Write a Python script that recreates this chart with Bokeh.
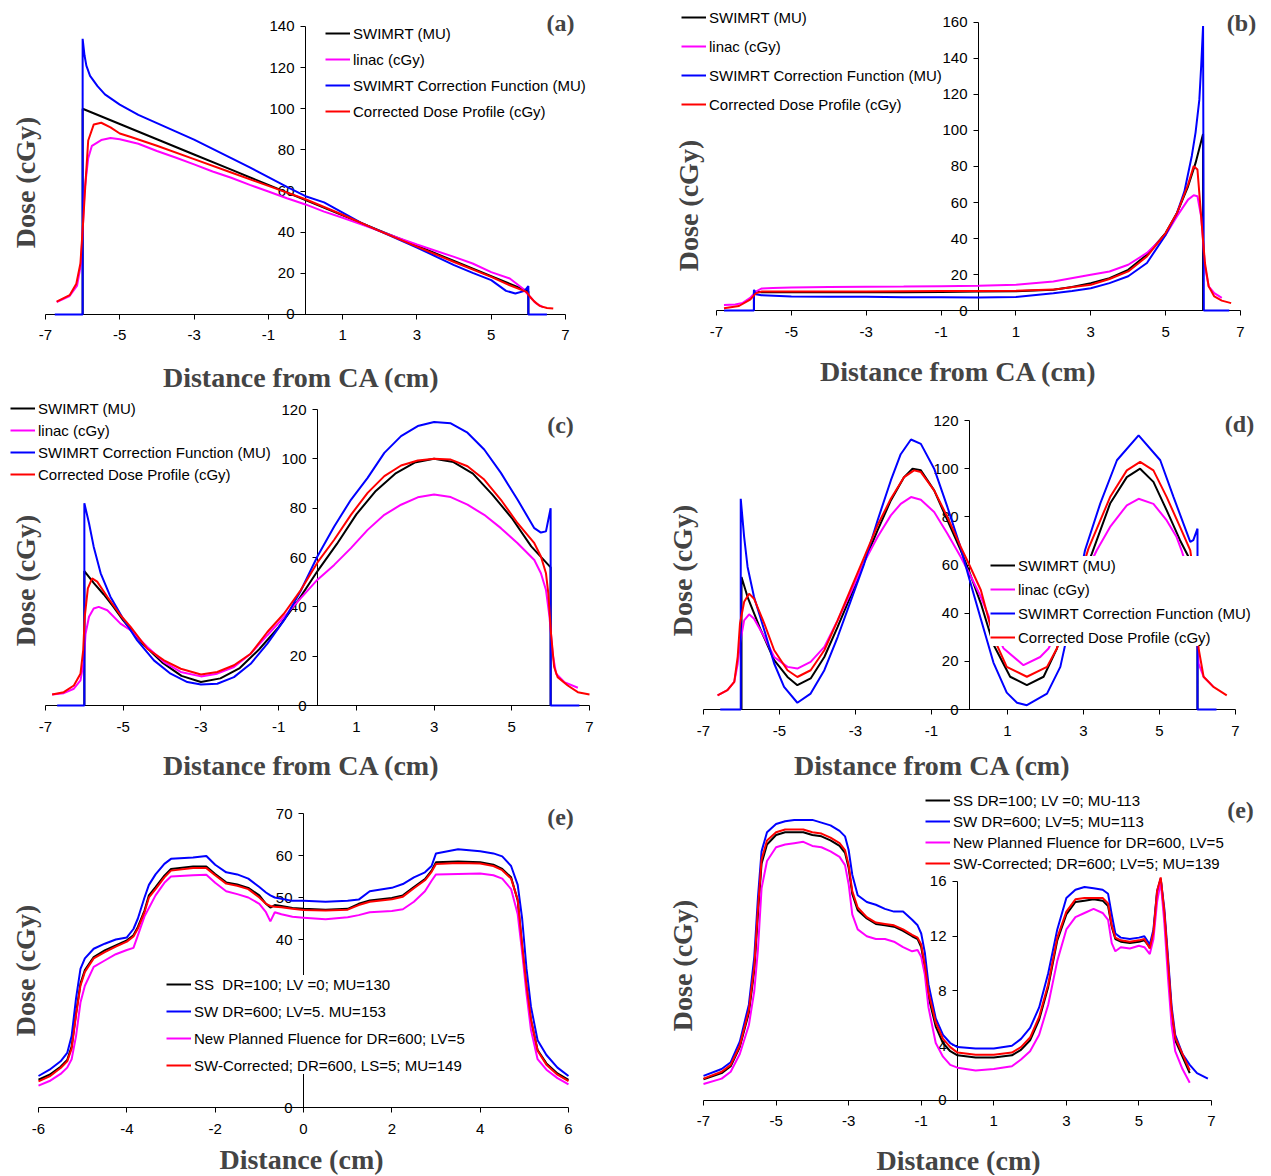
from bokeh.plotting import figure
from bokeh.models import Range1d, FixedTicker, Legend, LegendItem, Label
from bokeh.layouts import column, row
from bokeh.embed import file_html
from bokeh.resources import INLINE
import math

# ---------------- legend texts / ticks ----------------
LABELS_ABCD = ["SWIMRT (MU)", "linac (cGy)", "SWIMRT Correction Function (MU)", "Corrected Dose Profile (cGy)"]
LABELS_E1 = ["SS  DR=100; LV =0; MU=130", "SW DR=600; LV=5. MU=153",
             "New Planned Fluence for DR=600; LV=5", "SW-Corrected; DR=600, LS=5; MU=149"]
LABELS_E2 = ["SS DR=100; LV =0; MU-113", "SW DR=600; LV=5; MU=113",
             "New Planned Fluence for DR=600, LV=5", "SW-Corrected; DR=600; LV=5; MU=139"]
X_TICKS_ODD = [-7, -5, -3, -1, 1, 3, 5, 7]
X_TICKS_E1 = [-6, -4, -2, 0, 2, 4, 6]
Y_TICKS_A = [0, 20, 40, 60, 80, 100, 120, 140]
Y_TICKS_B = [0, 20, 40, 60, 80, 100, 120, 140, 160]
Y_TICKS_CD = [0, 20, 40, 60, 80, 100, 120]
Y_TICKS_E1 = [0, 10, 20, 30, 40, 50, 60, 70]
Y_TICKS_E2 = [0, 4, 8, 12, 16]

# ---------------- panel (a) ----------------
A_BLACK_X = [-6.0, -6.0, -5.0, -4.0, -3.0, -2.0, -1.0, 0.0, 1.0, 2.0, 3.0, 4.0, 5.0, 6.0, 6.0]
A_BLACK_Y = [0.0, 100.0, 92.6, 85.2, 77.8, 70.4, 63.0, 55.6, 48.2, 40.8, 33.4, 26.0, 18.6, 11.2, 0.0]
A_MAG_X = [-6.7, -6.35, -6.15, -6.05, -6.0, -5.95, -5.85, -5.75, -5.5, -5.25, -5.0, -4.5, -4.0, -3.5, -3.0,
           -2.5, -2.0, -1.5, -1.0, -0.5, 0.0, 0.5, 1.0, 1.5, 2.0, 2.5, 3.0, 3.5, 4.0, 4.5, 5.0, 5.5, 5.85,
           6.05, 6.2, 6.4]
A_MAG_Y = [6.0, 9.0, 14.0, 24.0, 40.0, 60.0, 76.0, 82.0, 84.8, 85.8, 85.2, 83.0, 79.5, 76.3, 73.0, 69.5,
           66.5, 63.0, 59.8, 56.5, 53.5, 50.0, 47.0, 43.8, 40.5, 37.2, 34.0, 31.0, 28.0, 24.8, 20.6, 17.5,
           12.6, 8.5, 5.5, 3.5]
A_BLUE_X = [-6.75, -6.0, -6.0, -5.95, -5.9, -5.8, -5.6, -5.4, -5.0, -4.5, -4.0, -3.5, -3.0, -2.5, -2.0,
            -1.5, -1.0, -0.5, 0.0, 0.5, 1.0, 1.5, 2.0, 2.5, 3.0, 3.5, 4.0, 4.5, 5.0, 5.4, 5.65, 5.9, 6.0,
            6.0, 6.5]
A_BLUE_Y = [0.0, 0.0, 134.0, 126.0, 121.0, 116.0, 111.0, 107.0, 102.0, 97.0, 93.0, 89.0, 85.0, 80.5,
            76.0, 71.5, 66.8, 62.0, 57.5, 54.5, 49.5, 44.5, 40.5, 36.5, 32.5, 28.3, 24.0, 20.2, 16.7,
            11.5, 10.2, 11.5, 13.8, 0.0, 0.0]
A_RED_X = [-6.7, -6.35, -6.17, -6.06, -6.0, -5.93, -5.85, -5.7, -5.5, -5.25, -5.0, -4.7, -4.0, -3.0,
           -2.0, -1.0, 0.0, 1.0, 2.0, 3.0, 4.0, 5.0, 5.5, 5.95, 6.05, 6.15, 6.3, 6.5, 6.67]
A_RED_Y = [6.3, 9.4, 15.0, 24.8, 41.0, 62.0, 84.6, 92.4, 93.2, 91.0, 88.0, 86.3, 82.0, 75.5, 69.0, 62.5,
           56.0, 48.5, 40.5, 33.0, 25.5, 18.3, 14.2, 11.0, 8.5, 6.5, 4.2, 3.2, 2.9]

# ---------------- panel (b) ----------------
B_BLACK_X = [-6.0, -6.0, -5.8, -5.0, -4.0, -3.0, -2.0, -1.0, 0.0, 1.0, 2.0, 2.5, 3.0, 3.5, 4.0, 4.5, 5.0,
             5.3, 5.6, 5.8, 5.9, 6.0, 6.0]
B_BLACK_Y = [0.0, 10.5, 10.2, 10.2, 10.2, 10.2, 10.2, 10.3, 10.5, 10.7, 11.5, 13.0, 15.2, 18.0, 22.6,
             31.0, 43.0, 54.0, 69.0, 82.0, 90.0, 98.0, 0.0]
B_MAG_X = [-6.8, -6.5, -6.3, -6.1, -5.95, -5.8, -5.5, -5.0, -4.0, -3.0, -2.0, -1.0, 0.0, 1.0, 2.0, 3.0,
           3.5, 4.0, 4.5, 5.0, 5.3, 5.6, 5.75, 5.85, 5.95, 6.05, 6.15, 6.3, 6.5]
B_MAG_Y = [3.0, 3.3, 4.2, 7.0, 10.5, 12.2, 12.5, 12.8, 13.0, 13.2, 13.3, 13.5, 13.7, 14.3, 16.1, 19.9,
           21.7, 25.4, 32.0, 42.0, 52.3, 61.6, 64.0, 63.5, 52.0, 24.5, 13.4, 9.6, 7.0]
B_BLUE_X = [-6.8, -6.0, -6.0, -5.95, -5.8, -5.0, -4.0, -3.0, -2.0, -1.0, 0.0, 1.0, 2.0, 2.5, 3.0, 3.5,
            4.0, 4.5, 5.0, 5.3, 5.5, 5.7, 5.8, 5.9, 5.95, 6.0, 6.02, 6.7]
B_BLUE_Y = [0.0, 0.0, 11.5, 9.0, 8.5, 7.8, 7.6, 7.6, 7.3, 7.4, 7.2, 7.5, 9.6, 10.8, 12.4, 15.2, 19.0,
            26.4, 42.0, 54.0, 66.0, 86.0, 99.0, 117.0, 136.0, 158.0, 0.0, 0.0]
B_RED_X = [-6.8, -6.4, -6.1, -5.95, -5.8, -5.5, -5.0, -4.0, -3.0, -2.0, -1.0, 0.0, 1.0, 2.0, 3.0, 3.5,
           4.0, 4.5, 5.0, 5.3, 5.6, 5.75, 5.85, 5.95, 6.05, 6.15, 6.3, 6.5, 6.75]
B_RED_Y = [1.3, 2.5, 6.0, 9.5, 10.5, 10.5, 10.5, 10.5, 10.6, 10.7, 10.8, 10.9, 11.0, 11.6, 14.3, 17.5,
           21.7, 30.0, 43.0, 54.0, 70.0, 80.2, 78.3, 52.0, 26.4, 13.4, 7.8, 5.5, 4.1]

# ---------------- panel (c) ----------------
C_BLACK_X = [-6.0, -6.0, -5.75, -5.5, -5.25, -5.0, -4.5, -4.0, -3.5, -3.0, -2.5, -2.0, -1.5, -1.0, -0.5,
             0.0, 0.5, 1.0, 1.5, 2.0, 2.5, 3.0, 3.5, 4.0, 4.5, 5.0, 5.5, 6.0, 6.0]
C_BLACK_Y = [0.0, 54.5, 49.5, 45.0, 40.0, 34.5, 25.0, 17.5, 12.0, 9.5, 11.0, 15.2, 22.8, 31.8, 42.5,
             54.5, 65.5, 77.5, 87.0, 94.0, 98.5, 100.0, 98.7, 94.0, 85.5, 76.0, 64.5, 56.0, 0.0]
C_MAG_X = [-6.83, -6.53, -6.27, -6.1, -6.01, -5.97, -5.88, -5.76, -5.63, -5.41, -5.07, -4.81, -4.38, -3.95,
           -3.52, -3.0, -2.58, -2.15, -1.72, -1.29, -0.86, -0.43, 0.0, 0.43, 0.86, 1.29, 1.72, 2.15, 2.58,
           3.0, 3.43, 3.86, 4.29, 4.72, 5.15, 5.58, 5.75, 5.88, 5.97, 6.05, 6.14, 6.35, 6.7]
C_MAG_Y = [4.5, 5.0, 6.8, 10.2, 18.3, 29.0, 36.0, 39.3, 40.0, 38.6, 33.2, 30.5, 23.7, 17.6, 13.6, 11.8,
           12.9, 15.6, 21.0, 28.5, 35.9, 43.5, 51.0, 57.0, 63.8, 71.2, 77.3, 81.4, 84.4, 85.5, 84.5, 81.4,
           77.3, 71.9, 65.8, 59.0, 53.6, 46.8, 36.0, 21.0, 12.9, 9.5, 7.2]
C_BLUE_X = [-6.7, -6.0, -6.0, -5.88, -5.76, -5.58, -5.33, -4.98, -4.64, -4.21, -3.78, -3.35, -3.0, -2.58,
            -2.15, -1.72, -1.29, -0.86, -0.43, 0.0, 0.43, 0.86, 1.29, 1.72, 2.15, 2.58, 3.0, 3.43, 3.86,
            4.29, 4.72, 5.15, 5.58, 5.75, 5.88, 5.94, 6.0, 6.0, 6.74]
C_BLUE_Y = [0.0, 0.0, 82.0, 73.9, 64.4, 53.6, 44.1, 34.6, 26.4, 18.3, 12.9, 9.5, 8.5, 8.8, 11.5, 16.9,
            25.1, 34.6, 46.5, 60.5, 72.6, 83.4, 92.3, 102.4, 109.2, 113.3, 114.9, 114.4, 110.6, 103.8,
            94.3, 83.4, 71.9, 70.1, 70.6, 75.3, 80.0, 0.0, 0.0]
C_RED_X = [-6.83, -6.53, -6.27, -6.1, -6.03, -5.99, -5.91, -5.8, -5.67, -5.41, -5.07, -4.81, -4.38, -3.95,
           -3.52, -3.0, -2.58, -2.15, -1.72, -1.29, -0.86, -0.43, 0.0, 0.43, 0.86, 1.29, 1.72, 2.15, 2.58,
           3.0, 3.43, 3.86, 4.29, 4.72, 5.15, 5.58, 5.75, 5.88, 5.94, 6.01, 6.09, 6.18, 6.44, 6.7, 7.0]
C_RED_Y = [4.5, 5.4, 8.1, 12.9, 22.4, 36.0, 47.5, 51.5, 50.2, 44.1, 36.6, 31.9, 23.0, 18.3, 14.9, 12.6,
           13.6, 16.3, 21.0, 29.8, 37.3, 46.8, 58.0, 67.2, 77.3, 86.2, 93.0, 97.3, 99.3, 100.0, 99.7,
           97.0, 91.6, 83.4, 73.9, 65.8, 60.4, 53.6, 45.5, 29.2, 15.6, 11.5, 8.1, 5.4, 4.5]

# ---------------- panel (d) ----------------
D_BLACK_X = [-6.0, -6.0, -5.84, -5.49, -5.14, -4.79, -4.53, -4.18, -3.82, -3.47, -3.12, -2.77, -2.42,
             -2.07, -1.72, -1.5, -1.28, -0.93, -0.58, -0.23, 0.0, 0.3, 0.63, 1.07, 1.51, 1.95, 2.3, 2.7,
             3.22, 3.7, 4.14, 4.49, 4.84, 5.19, 5.54, 5.81, 6.0, 6.0]
D_BLACK_Y = [0.0, 55.0, 46.7, 32.9, 20.5, 13.5, 10.1, 12.9, 21.8, 34.3, 47.4, 61.2, 74.4, 86.8, 96.5,
             100.0, 99.3, 91.0, 78.5, 66.1, 57.0, 44.0, 27.0, 13.6, 10.1, 13.6, 25.3, 45.0, 64.7, 85.5,
             96.5, 100.0, 94.5, 82.7, 70.3, 62.0, 56.0, 0.0]
D_MAG_X = [-6.63, -6.37, -6.19, -6.1, -6.04, -5.93, -5.8, -5.67, -5.4, -5.14, -4.79, -4.53, -4.18, -3.82,
           -3.47, -3.12, -2.77, -2.42, -2.07, -1.81, -1.54, -1.28, -0.93, -0.58, -0.23, 0.0, 0.3, 0.6,
           0.9, 1.42, 1.86, 2.08, 2.7, 3.35, 3.7, 4.14, 4.45, 4.84, 5.19, 5.45, 5.58, 5.8, 5.95, 6.03,
           6.16, 6.42]
D_MAG_Y = [5.9, 8.0, 11.5, 19.0, 27.4, 37.0, 39.5, 37.7, 30.1, 21.8, 17.7, 17.0, 19.8, 26.0, 37.0, 48.8,
           61.2, 71.6, 80.6, 85.4, 88.2, 87.1, 82.0, 73.0, 63.3, 56.4, 46.7, 35.0, 25.3, 18.4, 21.8,
           25.3, 45.0, 66.1, 75.8, 84.8, 87.5, 85.4, 78.5, 71.6, 66.1, 55.0, 40.0, 19.0, 13.6, 9.4]
D_BLUE_X = [-6.56, -6.02, -6.02, -5.93, -5.84, -5.67, -5.4, -5.14, -4.88, -4.53, -4.18, -3.82, -3.47,
            -3.12, -2.77, -2.42, -2.07, -1.81, -1.54, -1.28, -0.93, -0.58, -0.23, 0.0, 0.3, 0.63, 0.98,
            1.25, 1.51, 2.04, 2.39, 2.7, 3.04, 3.44, 3.88, 4.45, 5.02, 5.37, 5.63, 5.81, 5.89, 6.0, 6.0,
            6.5]
D_BLUE_Y = [0.0, 0.0, 87.5, 71.6, 59.2, 46.7, 32.9, 19.1, 9.4, 2.8, 6.6, 16.3, 30.1, 45.3, 60.6, 78.5,
            95.1, 106.0, 112.1, 110.3, 100.0, 84.0, 67.0, 54.0, 37.5, 19.5, 7.0, 2.8, 1.8, 6.6, 17.7, 40.0,
            66.1, 85.5, 103.5, 113.8, 103.5, 88.2, 77.2, 69.6, 70.3, 75.1, 0.0, 0.0]
D_RED_X = [-6.63, -6.37, -6.19, -6.1, -6.04, -5.93, -5.8, -5.67, -5.4, -5.14, -4.79, -4.53, -4.18, -3.82,
           -3.47, -3.12, -2.77, -2.42, -2.07, -1.72, -1.46, -1.28, -0.93, -0.58, -0.23, 0.0, 0.3, 0.63,
           0.98, 1.51, 2.04, 2.3, 2.7, 3.13, 3.7, 4.14, 4.49, 4.84, 5.19, 5.54, 5.81, 5.95, 6.03, 6.16,
           6.42, 6.77]
D_RED_Y = [5.9, 8.0, 11.5, 22.0, 35.7, 44.7, 48.1, 46.0, 35.7, 24.6, 16.3, 13.5, 16.3, 24.6, 37.0, 50.2,
           63.3, 76.5, 87.5, 96.5, 99.3, 98.6, 91.0, 79.9, 67.5, 59.9, 49.5, 30.0, 17.7, 13.6, 17.7, 25.3,
           45.0, 66.8, 88.2, 99.3, 102.8, 99.3, 88.2, 75.8, 66.1, 50.0, 25.3, 13.6, 9.4, 5.9]

# ---------------- panel (e), left ----------------
E1_X = [-6.0, -5.75, -5.5, -5.35, -5.25, -5.15, -5.05, -4.95, -4.75, -4.5, -4.25, -4.0, -3.85, -3.75,
        -3.6, -3.5, -3.35, -3.15, -3.0, -2.5, -2.2, -2.0, -1.75, -1.5, -1.25, -1.0, -0.85, -0.75, -0.65,
        -0.5, -0.25, 0.0, 0.5, 1.0, 1.25, 1.5, 2.0, 2.25, 2.5, 2.75, 2.9, 3.0, 3.5, 4.0, 4.3, 4.5, 4.7,
        4.85, 4.95, 5.05, 5.15, 5.3, 5.5, 5.75, 6.0]
E1_BLACK = [6.6, 7.8, 9.7, 11.3, 14.5, 22.4, 29.5, 32.7, 35.8, 37.4, 38.6, 39.8, 41.0, 43.0, 46.9, 50.5,
            52.5, 55.2, 56.8, 57.4, 57.4, 55.6, 53.6, 53.1, 52.3, 50.5, 48.5, 47.6, 48.2, 48.0, 47.5,
            47.3, 47.1, 47.3, 48.5, 49.3, 49.9, 50.5, 52.5, 54.4, 56.4, 58.4, 58.6, 58.4, 57.8, 56.8,
            54.8, 49.3, 38.2, 28.7, 20.8, 13.7, 10.5, 8.1, 6.6]
E1_BLUE = [7.5, 9.0, 11.0, 13.0, 17.0, 26.0, 33.0, 35.5, 37.8, 39.0, 40.0, 40.5, 42.5, 45.0, 50.0, 53.0,
           55.5, 58.0, 59.2, 59.5, 59.9, 57.8, 56.0, 55.5, 54.5, 52.5, 51.2, 50.5, 50.0, 49.7, 49.2, 49.2,
           49.0, 49.2, 49.5, 51.5, 52.3, 53.2, 54.8, 56.0, 57.5, 60.5, 61.5, 61.0, 60.5, 59.8, 57.5,
           53.0, 45.0, 33.0, 24.0, 16.0, 12.5, 9.5, 7.5]
E1_MAG = [5.2, 6.3, 8.0, 9.5, 11.5, 17.0, 25.0, 29.0, 33.5, 35.0, 36.5, 37.5, 38.0, 41.0, 45.5, 47.5,
          50.5, 53.5, 55.0, 55.3, 55.4, 53.5, 51.5, 50.8, 50.0, 48.5, 46.5, 44.3, 46.5, 46.0, 45.4, 45.2,
          44.8, 45.3, 45.8, 46.5, 46.8, 47.2, 49.0, 51.5, 54.0, 55.5, 55.6, 55.7, 55.3, 54.5, 52.0, 46.0,
          37.0, 27.0, 18.5, 11.5, 9.0, 7.0, 5.5]
E1_RED = [6.2, 7.4, 9.4, 11.0, 14.0, 22.0, 29.0, 32.3, 35.5, 37.0, 38.3, 39.5, 40.7, 42.6, 46.5, 50.0,
          52.0, 54.8, 56.4, 57.0, 57.0, 55.3, 53.3, 52.8, 52.0, 50.0, 48.5, 48.0, 47.8, 47.7, 47.3, 47.0,
          46.9, 47.1, 48.2, 49.0, 49.6, 50.2, 52.2, 54.1, 56.1, 58.0, 58.2, 58.1, 57.5, 56.5, 54.5, 49.5,
          38.8, 29.0, 21.0, 13.5, 10.2, 7.8, 6.3]

# ---------------- panel (e), right ----------------
E2_X = [-7.0, -6.5, -6.25, -6.0, -5.75, -5.6, -5.5, -5.4, -5.25, -5.0, -4.75, -4.5, -4.25, -4.0, -3.75,
        -3.5, -3.25, -3.1, -3.0, -2.9, -2.75, -2.5, -2.25, -2.0, -1.75, -1.5, -1.25, -1.1, -1.0, -0.9,
        -0.8, -0.6, -0.4, -0.2, 0.0, 0.5, 1.0, 1.5, 1.75, 2.0, 2.25, 2.5, 2.75, 3.0, 3.25, 3.5, 3.75, 4.0,
        4.15, 4.25, 4.35, 4.5, 4.75, 5.0, 5.15, 5.3, 5.4, 5.5, 5.6, 5.7, 5.8, 5.9, 6.0, 6.2, 6.4]
E2_BLACK = [1.55, 2.0, 2.5, 3.9, 6.4, 9.5, 13.6, 17.3, 18.7, 19.4, 19.6, 19.6, 19.6, 19.4, 19.3, 19.0,
            18.6, 18.1, 17.0, 15.1, 13.9, 13.3, 12.9, 12.8, 12.7, 12.4, 12.0, 11.8, 11.2, 9.7, 7.6, 5.4,
            4.2, 3.6, 3.3, 3.15, 3.15, 3.3, 3.7, 4.4, 5.9, 8.3, 11.7, 13.6, 14.5, 14.6, 14.7, 14.6, 14.2,
            12.7, 11.8, 11.6, 11.5, 11.6, 11.7, 11.2, 12.2, 15.1, 16.2, 13.6, 10.0, 6.4, 4.4, 3.2, 2.0]
E2_MAG = [1.2, 1.6, 2.1, 3.4, 5.5, 8.0, 11.0, 15.5, 17.5, 18.5, 18.7, 18.8, 18.9, 18.6, 18.5, 18.2, 17.8,
          17.2, 15.8, 13.6, 12.5, 12.0, 11.8, 11.8, 11.6, 11.2, 10.9, 11.0, 10.5, 9.2, 6.8, 4.2, 3.2, 2.6,
          2.4, 2.2, 2.3, 2.5, 3.0, 3.6, 4.8, 7.0, 10.2, 12.5, 13.4, 13.7, 14.0, 13.7, 13.2, 11.5, 10.9,
          11.2, 11.1, 11.3, 11.2, 10.7, 11.8, 14.5, 16.0, 13.0, 9.0, 5.5, 3.6, 2.3, 1.3]
E2_RED = [1.6, 2.1, 2.6, 4.0, 6.6, 9.8, 14.0, 17.6, 19.0, 19.6, 19.8, 19.8, 19.8, 19.6, 19.5, 19.2, 18.8,
          18.3, 17.2, 15.3, 14.1, 13.4, 13.0, 12.9, 12.8, 12.5, 12.1, 11.9, 11.4, 9.9, 7.9, 5.7, 4.5, 3.9,
          3.5, 3.35, 3.35, 3.5, 3.9, 4.6, 6.1, 8.5, 11.9, 13.8, 14.7, 14.8, 14.8, 14.8, 14.4, 12.8, 11.9,
          11.7, 11.6, 11.7, 11.8, 11.1, 12.3, 15.3, 16.3, 13.8, 10.2, 6.6, 4.6, 3.4, 2.2]
E2_BLUE_X = [-7.0, -6.5, -6.25, -6.0, -5.75, -5.6, -5.5, -5.4, -5.25, -5.0, -4.75, -4.5, -4.25, -4.0,
             -3.75, -3.5, -3.25, -3.1, -3.0, -2.9, -2.75, -2.5, -2.25, -2.0, -1.75, -1.5, -1.25, -1.1, -1.0,
             -0.9, -0.8, -0.6, -0.4, -0.2, 0.0, 0.5, 1.0, 1.5, 1.75, 2.0, 2.25, 2.5, 2.75, 3.0, 3.25, 3.5,
             3.75, 4.0, 4.15, 4.25, 4.35, 4.5, 4.75, 5.0, 5.15, 5.3, 5.4, 5.5, 5.6, 5.7, 5.8, 5.9, 6.0,
             6.2, 6.4, 6.6, 6.9]
E2_BLUE = [1.8, 2.3, 2.8, 4.3, 7.0, 10.5, 14.8, 18.2, 19.6, 20.2, 20.4, 20.5, 20.5, 20.5, 20.3, 20.1,
           19.7, 19.3, 18.3, 16.5, 15.0, 14.5, 14.3, 14.0, 13.8, 13.8, 13.2, 12.8, 12.2, 10.8, 8.5, 6.0,
           4.8, 4.2, 3.9, 3.8, 3.8, 4.0, 4.5, 5.3, 6.8, 9.3, 12.5, 14.8, 15.4, 15.6, 15.5, 15.4, 15.1,
           13.6, 12.2, 11.9, 11.8, 11.9, 12.0, 11.4, 12.5, 15.3, 16.2, 14.0, 10.5, 6.9, 4.8, 3.4, 2.6,
           2.0, 1.6]

BLACK, MAGENTA, BLUE, RED = "#000000", "#FF00FF", "#0000FF", "#FF0000"
TICK_FONT = "Liberation Sans"
TITLE_FONT = "Liberation Serif"


def build(width, height, x_range, y_range, xbounds, xticks, yticks, curves, legend_loc, legend_spacing,
          legend_fill_alpha, letter, letter_xy, ytitle_xy, xtitle, xtitle_xy):
    # the frame fills the whole figure; axes are pinned at x=0 / y=0 inside it
    p = figure(width=width, height=height, x_range=Range1d(*x_range), y_range=Range1d(*y_range),
               output_backend="svg", toolbar_location=None,
               min_border_left=0, min_border_right=0, min_border_top=0, min_border_bottom=0)
    p.outline_line_color = None
    p.xgrid.visible = False
    p.ygrid.visible = False
    p.background_fill_color = "white"
    p.border_fill_color = "white"
    for ax in (p.xaxis[0], p.yaxis[0]):
        ax.axis_line_color = "#000000"
        ax.axis_line_width = 1
        ax.major_tick_line_color = "#000000"
        ax.major_tick_out = 5
        ax.major_tick_in = 0
        ax.minor_tick_out = 0
        ax.minor_tick_in = 0
        ax.major_label_text_font = TICK_FONT
        ax.major_label_text_font_size = "15px"
        ax.major_label_text_color = "#000000"
        ax.level = "underlay"
        ax.fixed_location = 0
    p.xaxis.major_label_standoff = 11
    p.yaxis.major_label_standoff = 6
    p.xaxis.ticker = FixedTicker(ticks=xticks)
    p.yaxis.ticker = FixedTicker(ticks=yticks)
    p.xaxis.major_label_overrides = {t: str(t) for t in xticks}
    p.yaxis.major_label_overrides = {t: str(t) for t in yticks}
    p.xaxis.bounds = xbounds
    p.yaxis.bounds = (yticks[0], yticks[-1])

    items = []
    for xs, ys, color, label in curves:
        rr = p.line(xs, ys, line_color=color, line_width=2)
        items.append(LegendItem(label=label, renderers=[rr]))
    leg = Legend(items=items, location=legend_loc, orientation="vertical",
                 glyph_width=25, glyph_height=18, label_height=18, label_standoff=3,
                 spacing=legend_spacing, padding=4, margin=0,
                 border_line_color=None, background_fill_color="white",
                 background_fill_alpha=legend_fill_alpha,
                 label_text_font=TICK_FONT, label_text_font_size="15px", label_text_color="#000000")
    p.add_layout(leg)

    p.add_layout(Label(x=letter_xy[0], y=letter_xy[1], x_units="screen", y_units="screen", text=letter,
                       text_font=TITLE_FONT, text_font_style="bold", text_font_size="24px",
                       text_align="center", text_baseline="middle", level="overlay"))
    p.add_layout(Label(x=ytitle_xy[0], y=ytitle_xy[1], x_units="screen", y_units="screen",
                       text="Dose (cGy)", angle=math.pi / 2,
                       text_font=TITLE_FONT, text_font_style="bold", text_font_size="28px",
                       text_align="center", text_baseline="middle", level="overlay"))
    p.add_layout(Label(x=xtitle_xy[0], y=xtitle_xy[1], x_units="screen", y_units="screen",
                       text=xtitle,
                       text_font=TITLE_FONT, text_font_style="bold", text_font_size="28px",
                       text_align="center", text_baseline="middle", level="overlay"))
    return p


pa = build(640, 395, (-8.2115, 9.0192), (-39.378, 152.639), (-7, 7), X_TICKS_ODD, Y_TICKS_A,
           [(A_BLACK_X, A_BLACK_Y, BLACK, LABELS_ABCD[0]), (A_MAG_X, A_MAG_Y, MAGENTA, LABELS_ABCD[1]),
            (A_BLUE_X, A_BLUE_Y, BLUE, LABELS_ABCD[2]), (A_RED_X, A_RED_Y, RED, LABELS_ABCD[3])],
           (325, 275), 8, 0.0, "(a)", (560, 373), (25, 213), "Distance from CA (cm)", (301, 18))

pb = build(630, 395, (-9.0305, 7.8016), (-47.222, 172.222), (-7, 7), X_TICKS_ODD, Y_TICKS_B,
           [(B_BLACK_X, B_BLACK_Y, BLACK, LABELS_ABCD[0]), (B_MAG_X, B_MAG_Y, MAGENTA, LABELS_ABCD[1]),
            (B_BLUE_X, B_BLUE_Y, BLUE, LABELS_ABCD[2]), (B_RED_X, B_RED_Y, RED, LABELS_ABCD[3])],
           (41, 282), 11, 0.0, "(b)", (601, 373), (48, 190), "Distance from CA (cm)", (318, 24))

pc = build(640, 390, (-8.1581, 8.3125), (-32.432, 125.676), (-7, 7), X_TICKS_ODD, Y_TICKS_CD,
           [(C_BLACK_X, C_BLACK_Y, BLACK, LABELS_ABCD[0]), (C_MAG_X, C_MAG_Y, MAGENTA, LABELS_ABCD[1]),
            (C_BLUE_X, C_BLUE_Y, BLUE, LABELS_ABCD[2]), (C_RED_X, C_RED_Y, RED, LABELS_ABCD[3])],
           (10, 302), 4, 0.0, "(c)", (560, 361), (25, 205), "Distance from CA (cm)", (301, 20))

pd = build(630, 390, (-8.6579, 7.9211), (-31.557, 130.381), (-7, 7), X_TICKS_ODD, Y_TICKS_CD,
           [(D_BLACK_X, D_BLACK_Y, BLACK, LABELS_ABCD[0]), (D_MAG_X, D_MAG_Y, MAGENTA, LABELS_ABCD[1]),
            (D_BLUE_X, D_BLUE_Y, BLUE, LABELS_ABCD[2]), (D_RED_X, D_RED_Y, RED, LABELS_ABCD[3])],
           (350, 139), 6, 1.0, "(d)", (599, 362), (42, 215), "Distance from CA (cm)", (292, 20))

pe = build(640, 390, (-6.8604, 7.6302), (-16.190, 76.667), (-6, 6), X_TICKS_E1, Y_TICKS_E1,
           [(E1_X, E1_BLACK, BLACK, LABELS_E1[0]), (E1_X, E1_BLUE, BLUE, LABELS_E1[1]),
            (E1_X, E1_MAG, MAGENTA, LABELS_E1[2]), (E1_X, E1_RED, RED, LABELS_E1[3])],
           (166, 101), 9, 1.0, "(e)", (560, 359), (25, 205), "Distance (cm)", (301, 16))

pf = build(630, 390, (-8.7362, 8.6260), (-5.4795, 23.0137), (-7, 7), X_TICKS_ODD, Y_TICKS_E2,
           [(E2_X, E2_BLACK, BLACK, LABELS_E2[0]), (E2_BLUE_X, E2_BLUE, BLUE, LABELS_E2[1]),
            (E2_X, E2_MAG, MAGENTA, LABELS_E2[2]), (E2_X, E2_RED, RED, LABELS_E2[3])],
           (285, 303), 3, 1.0, "(e)", (600, 366), (42, 210), "Distance (cm)", (318, 15))

layout = column(row(pa, pb), row(pc, pd), row(pe, pf))
open("out.html", "w").write(file_html(layout, INLINE))
